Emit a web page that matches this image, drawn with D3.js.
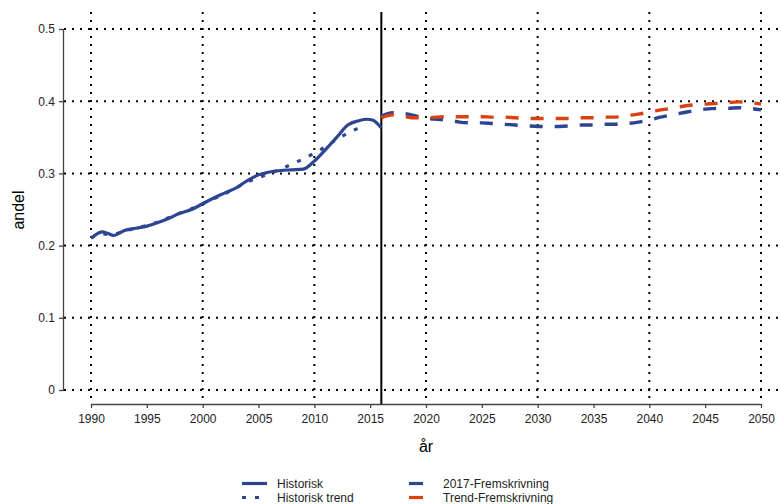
<!DOCTYPE html>
<html>
<head>
<meta charset="utf-8">
<script src="https://cdn.jsdelivr.net/npm/d3@7"></script>
<style>
  body { margin: 0; background: #fff; }
  svg { display: block; font-family: "Liberation Sans", Arial, sans-serif; }
</style>
</head>
<body>
<div id="chart"></div>
<script>
// historisk andel
const histYears = [1990, 1990.5, 1991, 1991.5, 1992, 1992.5, 1993, 1994, 1995, 1996, 1997, 1998, 1999,
  2000, 2001, 2002, 2003, 2004, 2005, 2006, 2007, 2008, 2009, 2010, 2011, 2012, 2013, 2014, 2014.7, 2015.2, 2016];
const histValues = [0.210, 0.216, 0.219, 0.217, 0.214, 0.217, 0.221, 0.224, 0.227, 0.232, 0.238, 0.245, 0.250,
  0.258, 0.266, 0.273, 0.280, 0.290, 0.298, 0.302, 0.304, 0.305, 0.306, 0.317, 0.333, 0.350, 0.367, 0.373, 0.375, 0.374, 0.363];

// historisk trend
const trendYears = [1990, 1991, 1992, 1993, 1994, 1995, 1996, 1997, 1998, 1999, 2000, 2001, 2002,
  2003, 2004, 2005, 2006, 2007, 2008, 2009, 2010, 2011, 2012, 2013, 2014, 2014.6];
const trendValues = [0.211, 0.216, 0.216, 0.220, 0.224, 0.228, 0.233, 0.239, 0.245, 0.251, 0.258, 0.265, 0.272,
  0.280, 0.288, 0.294, 0.300, 0.306, 0.313, 0.320, 0.328, 0.337, 0.347, 0.356, 0.363, 0.367];

// fremskrivninger 2016-2050
const projYears = d3.range(2016, 2051);
const fremsk2017 = [0.379, 0.384, 0.383, 0.380, 0.376, 0.375, 0.374, 0.371, 0.370, 0.370, 0.369, 0.368,
  0.367, 0.366, 0.365, 0.365, 0.365, 0.366, 0.367, 0.367, 0.368, 0.368, 0.369, 0.371, 0.374, 0.378,
  0.381, 0.384, 0.387, 0.389, 0.390, 0.390, 0.391, 0.390, 0.388];
const trendFremsk = [0.377, 0.381, 0.379, 0.377, 0.377, 0.378, 0.3785, 0.3785, 0.3785, 0.3785, 0.378, 0.378,
  0.377, 0.376, 0.376, 0.376, 0.376, 0.376, 0.377, 0.377, 0.378, 0.378, 0.380, 0.382, 0.385, 0.388,
  0.390, 0.393, 0.395, 0.396, 0.397, 0.398, 0.399, 0.398, 0.396];

const xTicks = d3.range(1990, 2051, 5);
const xGrid = d3.range(1990, 2051, 10);
const yTicks = [0, 0.1, 0.2, 0.3, 0.4, 0.5];
const splitYear = 2016;

const blue = "#2c4592";
const red = "#d9410f";

const w = 781, h = 504;
const svg = d3.select("#chart").append("svg")
  .attr("width", w)
  .attr("height", h);

const x = d3.scaleLinear().domain([1990, 2050]).range([91, 761]);
const y = d3.scaleLinear().domain([0, 0.5]).range([390, 29]);

// grid
svg.append("g")
  .selectAll("line")
  .data(yTicks)
  .join("line")
  .attr("x1", 64).attr("x2", 778)
  .attr("y1", d => y(d)).attr("y2", d => y(d))
  .attr("stroke", "#000")
  .attr("stroke-width", 2)
  .attr("stroke-dasharray", "2,6");

svg.append("g")
  .selectAll("line")
  .data(xGrid)
  .join("line")
  .attr("x1", d => x(d)).attr("x2", d => x(d))
  .attr("y1", 12).attr("y2", 402)
  .attr("stroke", "#000")
  .attr("stroke-width", 2)
  .attr("stroke-dasharray", "2,6");

// axes
const xAxis = svg.append("g")
  .attr("transform", "translate(0,404)")
  .call(d3.axisBottom(x).tickValues(xTicks).tickFormat(d3.format("d")).tickSize(4).tickPadding(6));

const yAxis = svg.append("g")
  .attr("transform", "translate(64,0)")
  .call(d3.axisLeft(y).tickValues(yTicks).tickFormat(d => d === 0 ? "0" : d3.format(".1f")(d)).tickSize(5).tickPadding(4));

[xAxis, yAxis].forEach(a => {
  a.select(".domain").attr("stroke", "#444").attr("stroke-width", 1.3);
  a.selectAll(".tick line").attr("stroke", "#444").attr("stroke-width", 1.3);
  a.selectAll(".tick text")
    .attr("fill", "#222")
    .style("font-size", "12px")
    .style("font-family", "Liberation Sans, Arial, sans-serif");
});
yAxis.select(".domain").attr("d", `M-0.5,${y(0.5)}V${y(0)}`);
xAxis.select(".domain").attr("d", `M${x(1990)},0.5H${x(2050)}`);

// split line
svg.append("line")
  .attr("x1", x(splitYear)).attr("x2", x(splitYear))
  .attr("y1", 12).attr("y2", 404)
  .attr("stroke", "#000")
  .attr("stroke-width", 2);

// series
const line = d3.line()
  .x(d => x(d[0]))
  .y(d => y(d[1]))
  .curve(d3.curveMonotoneX);

svg.append("path")
  .datum(d3.zip(trendYears, trendValues))
  .attr("d", line)
  .attr("fill", "none")
  .attr("stroke", blue)
  .attr("stroke-width", 3.2)
  .attr("stroke-dasharray", "4,9");

svg.append("path")
  .datum(d3.zip(histYears, histValues))
  .attr("d", line)
  .attr("fill", "none")
  .attr("stroke", blue)
  .attr("stroke-width", 3.2)
  .attr("stroke-linejoin", "round");

svg.append("path")
  .datum(d3.zip(projYears, fremsk2017))
  .attr("d", line)
  .attr("fill", "none")
  .attr("stroke", blue)
  .attr("stroke-width", 3.4)
  .attr("stroke-dasharray", "13,12");

svg.append("path")
  .datum(d3.zip(projYears, trendFremsk))
  .attr("d", line)
  .attr("fill", "none")
  .attr("stroke", red)
  .attr("stroke-width", 3.4)
  .attr("stroke-dasharray", "13,12");

// axis titles
svg.append("text")
  .attr("transform", "translate(24,210) rotate(-90)")
  .attr("text-anchor", "middle")
  .style("font-size", "16px")
  .style("fill", "#000")
  .text("andel");

svg.append("text")
  .attr("x", x(2020))
  .attr("y", 452)
  .attr("text-anchor", "middle")
  .style("font-size", "16px")
  .style("fill", "#000")
  .text("år");

// legend
const legendItems = [
  { label: "Historisk", color: blue, dash: null, x1: 242, x2: 267, tx: 277, y: 483.5 },
  { label: "Historisk trend", color: blue, dash: "4,9", x1: 242, x2: 267, tx: 277, y: 497.5 },
  { label: "2017-Fremskrivning", color: blue, dash: null, x1: 409, x2: 423, tx: 443, y: 483.5 },
  { label: "Trend-Fremskrivning", color: red, dash: null, x1: 409, x2: 423, tx: 443, y: 497.5 }
];

const legend = svg.append("g");
legend.selectAll("line")
  .data(legendItems)
  .join("line")
  .attr("x1", d => d.x1).attr("x2", d => d.x2)
  .attr("y1", d => d.y).attr("y2", d => d.y)
  .attr("stroke", d => d.color)
  .attr("stroke-width", 3.2)
  .attr("stroke-dasharray", d => d.dash);

legend.selectAll("text")
  .data(legendItems)
  .join("text")
  .attr("x", d => d.tx)
  .attr("y", d => d.y + 4.3)
  .style("font-size", "12px")
  .style("fill", "#222")
  .text(d => d.label);
</script>
</body>
</html>
